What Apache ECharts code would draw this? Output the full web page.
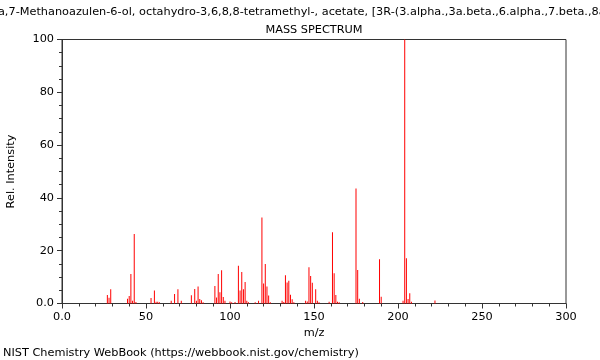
<!DOCTYPE html>
<html><head><meta charset="utf-8">
<script src="https://cdn.jsdelivr.net/npm/echarts@6/dist/echarts.min.js"></script>
<style>html,body{margin:0;padding:0;background:#fff}#c{width:600px;height:360px}</style>
</head><body><div id="c"></div>
<script>
const titleText = "1H-3a,7-Methanoazulen-6-ol, octahydro-3,6,8,8-tetramethyl-, acetate, [3R-(3.alpha.,3a.beta.,6.alpha.,7.beta.,8a.alpha.)]-";
const subTitle = "MASS SPECTRUM";
const footer = "NIST Chemistry WebBook (https://webbook.nist.gov/chemistry)";
const xTicks = [0, 50, 100, 150, 200, 250, 300];
const yTicks = [0, 20, 40, 60, 80, 100];
const mz = [27,28,29,39,40,41,42,43,44,53,55,56,57,58,65,67,69,71,77,79,80,81,82,83,84,91,92,93,94,95,96,97,100,101,103,105,106,107,108,109,110,111,115,117,119,120,121,122,123,124,131,132,133,134,135,136,137,138,145,146,147,148,149,151,152,153,159,161,162,163,164,165,175,176,177,179,189,190,203,204,205,206,207,208,222];
const intensity = [3.2,2.2,5.4,1.8,2.8,11.2,1.0,26.3,0.6,2.1,4.9,0.7,0.7,0.5,1.0,3.6,5.4,1.0,3.1,5.5,1.0,6.4,1.7,1.2,0.5,6.6,2.3,11.2,4.3,12.6,2.5,1.0,0.8,0.5,0.6,14.3,4.9,11.9,5.4,8.1,1.0,0.5,0.5,1.0,32.6,7.6,15.0,6.4,3.0,0.5,1.0,0.6,10.7,8.0,8.6,3.3,1.6,0.5,1.0,0.8,13.7,10.4,7.9,5.4,1.0,0.5,0.7,27.0,11.5,3.2,0.7,0.5,43.6,12.7,1.8,0.6,16.8,2.6,1.0,100,17.1,1.7,3.9,0.7,1.1];

const chart = echarts.init(document.getElementById('c'), null, {renderer:'canvas'});
const font = 'DejaVu Sans';
const fs = 11.3;
const f = fs + 'px "DejaVu Sans"';
const fmt = v => v === 0 ? '0.0' : String(v);
chart.setOption({
  animation:false,
  textStyle:{fontFamily:font},
  grid:{left:62, right:34, top:39.5, bottom:56.5, show:true, borderColor:'#333', borderWidth:1},
  xAxis:{type:'value', min:xTicks[0], max:xTicks[xTicks.length-1], interval:50,
    axisLine:{show:true, onZero:false, lineStyle:{color:'#333'}},
    axisTick:{show:true, length:5, lineStyle:{color:'#333'}},
    minorTick:{show:true, splitNumber:5, length:3, lineStyle:{color:'#333'}},
    splitLine:{show:false},
    axisLabel:{formatter:fmt, color:'#000', fontSize:fs, margin:8, fontFamily:font}},
  yAxis:{type:'value', min:yTicks[0], max:yTicks[yTicks.length-1], interval:20,
    axisLine:{show:true, onZero:false, lineStyle:{color:'#333'}},
    axisTick:{show:true, length:5, lineStyle:{color:'#333'}},
    minorTick:{show:true, splitNumber:4, length:3, lineStyle:{color:'#333'}},
    splitLine:{show:false},
    axisLabel:{formatter:fmt, color:'#000', fontSize:fs, margin:8, fontFamily:font}},
  series:[{type:'bar', barWidth:1, itemStyle:{color:'#ff0000'}, silent:true,
    data: mz.map((m,i)=>[m,intensity[i]])}],
  graphic:[
    {type:'text', x:314, y:12, style:{text:titleText, textAlign:'center', textVerticalAlign:'middle', font:f, fill:'#000'}},
    {type:'text', x:314, y:30, style:{text:subTitle, textAlign:'center', textVerticalAlign:'middle', font:f, fill:'#000'}},
    {type:'text', x:314, y:333, style:{text:'m/z', textAlign:'center', textVerticalAlign:'middle', font:f, fill:'#000'}},
    {type:'text', x:11, y:171.5, rotation:Math.PI/2, style:{text:'Rel. Intensity', textAlign:'center', textVerticalAlign:'middle', font:f, fill:'#000'}},
    {type:'text', x:3, y:353, style:{text:footer, textAlign:'left', textVerticalAlign:'middle', font:f, fill:'#000'}}
  ]
});
</script></body></html>
